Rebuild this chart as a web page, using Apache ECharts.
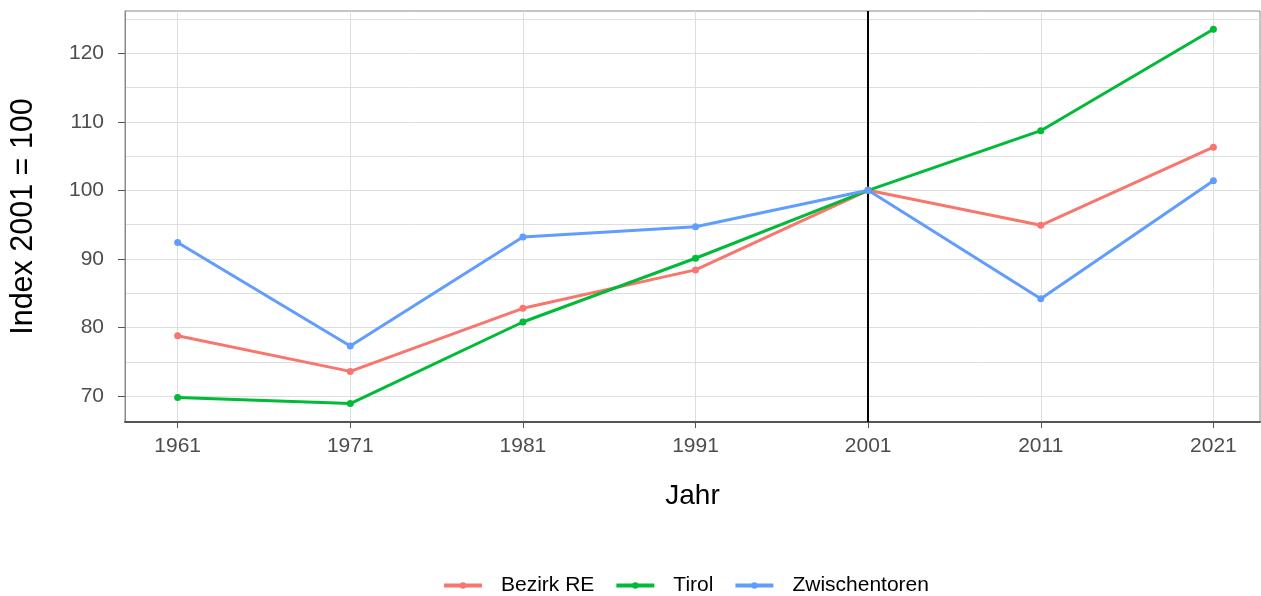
<!DOCTYPE html>
<html>
<head>
<meta charset="utf-8">
<title>Index 2001 = 100</title>
<script src="https://cdn.jsdelivr.net/npm/echarts@6/dist/echarts.min.js"></script>
<style>
    html, body { margin: 0; padding: 0; background: #fff; }
    #main { width: 1261px; height: 596px; }
</style>
</head>
<body>
<div id="main"></div>
<script>
// Daten ----------------------------
var jahre = [1961, 1971, 1981, 1991, 2001, 2011, 2021];
var bezirkRE = [78.8, 73.6, 82.8, 88.4, 100, 94.9, 106.3];
var tirol = [69.8, 68.9, 80.8, 90.1, 100, 108.7, 123.5];
var zwischentoren = [92.4, 77.3, 93.2, 94.7, 100, 84.2, 101.4];
var yTicks = [70, 80, 90, 100, 110, 120];
var yGrid = [70, 75, 80, 85, 90, 95, 100, 105, 110, 115, 120, 125];
var basisJahr = 2001;

var font = '"Liberation Sans", Arial, sans-serif';

function paare(werte) {
    return jahre.map(function (j, i) { return [j, werte[i]]; });
}

function linie(name, farbe, werte) {
    return {
        name: name,
        type: 'line',
        data: paare(werte),
        symbol: 'circle',
        symbolSize: 7,
        lineStyle: { color: farbe, width: 3 },
        itemStyle: { color: farbe },
        z: 3
    };
}

var myChart = echarts.init(document.getElementById('main'));

var series = [
    linie('Bezirk RE', '#F8766D', bezirkRE),
    linie('Tirol', '#00BA38', tirol),
    linie('Zwischentoren', '#619CFF', zwischentoren)
];
// senkrechte Linie beim Basisjahr
series[0].markLine = {
    silent: true,
    symbol: 'none',
    label: { show: false },
    lineStyle: { color: '#000', type: 'solid', width: 2 },
    data: [{ xAxis: basisJahr }],
    z: 2
};

var option = {
    backgroundColor: '#fff',
    animation: false,
    grid: {
        left: 123.5,
        right: 1,
        top: 11,
        bottom: 174,
        show: true,
        borderColor: '#8a8a8a',
        borderWidth: 1
    },
    legend: {
        left: 437,
        top: 570,
        itemWidth: 38,
        itemHeight: 8,
        itemGap: 20,
        lineStyle: { width: 4 },
        textStyle: { fontFamily: font, fontSize: 21, color: '#000', padding: [0, 0, 0, 14] },
        data: ['Bezirk RE', 'Tirol', 'Zwischentoren']
    },
    xAxis: {
        type: 'value',
        min: 1957.95,
        max: 2023.7,
        name: 'Jahr',
        nameLocation: 'middle',
        nameGap: 60,
        nameTextStyle: { fontFamily: font, fontSize: 28, color: '#000' },
        axisLine: { show: true, lineStyle: { color: '#555', width: 2 } },
        axisTick: { show: true, length: 6, lineStyle: { color: '#555' }, customValues: jahre },
        axisLabel: {
            fontFamily: font, fontSize: 21, color: '#4d4d4d', margin: 14,
            customValues: jahre,
            formatter: function (v) { return String(v); }
        },
        splitLine: { show: true, lineStyle: { color: '#dedede', width: 1 } }
    },
    yAxis: [{
        type: 'value',
        min: 66.22,
        max: 126.15,
        name: 'Index 2001 = 100',
        nameLocation: 'middle',
        nameGap: 86,
        nameTextStyle: { fontFamily: font, fontSize: 30.5, color: '#000' },
        axisLine: { show: true, lineStyle: { color: '#8a8a8a', width: 1 } },
        axisTick: { show: true, length: 7, lineStyle: { color: '#555' }, customValues: yTicks },
        axisLabel: { fontFamily: font, fontSize: 21, color: '#4d4d4d', margin: 21, customValues: yTicks },
        splitLine: { show: false }
    }, {
        type: 'value',
        min: 66.22,
        max: 126.15,
        position: 'left',
        axisLine: { show: false },
        axisTick: { show: false, customValues: yGrid },
        axisLabel: { show: false, customValues: yGrid },
        splitLine: { show: true, lineStyle: { color: '#dedede', width: 1 } }
    }],
    series: series
};
myChart.setOption(option);
</script>
</body>
</html>
